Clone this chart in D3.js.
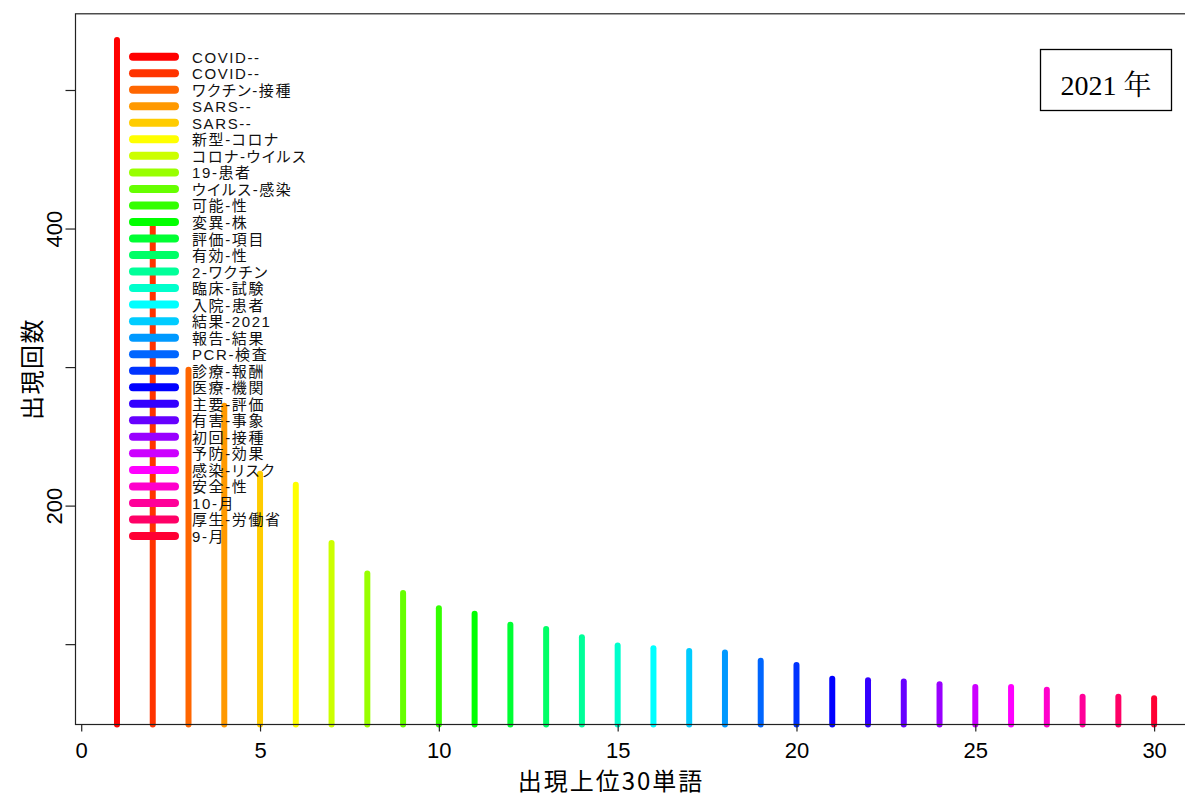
<!DOCTYPE html>
<html><head><meta charset="utf-8">
<script src="https://cdn.jsdelivr.net/npm/d3@7"></script>
<style>
html,body{margin:0;padding:0;background:#fff;}
svg{display:block;}
</style></head>
<body>
<svg id="chart" width="1185" height="796"></svg>
<script>
// ---- data ----
const ranks = d3.range(1, 31);
const counts = [536, 403, 298, 272, 223, 215, 173, 151, 137, 126,
                122, 114, 111, 105, 99, 97, 95, 94, 88, 85,
                75, 74, 73, 71, 69, 69, 67, 62, 62, 61];
const legendLabels = ["COVID--", "COVID--", "ワクチン-接種", "SARS--", "SARS--",
  "新型-コロナ", "コロナ-ウイルス", "19-患者", "ウイルス-感染", "可能-性",
  "変異-株", "評価-項目", "有効-性", "2-ワクチン", "臨床-試験",
  "入院-患者", "結果-2021", "報告-結果", "PCR-検査", "診療-報酬",
  "医療-機関", "主要-評価", "有害-事象", "初回-接種", "予防-効果",
  "感染-リスク", "安全-性", "10-月", "厚生-労働省", "9-月"];
const xTicks = [0, 5, 10, 15, 20, 25, 30];
const yTicks = [100, 200, 300, 400, 500];
const yTickLabels = ["", "200", "", "400", ""];
const xTitle = "出現上位30単語";
const yTitle = "出現回数";
const yearLabel = "2021 年";

// rainbow(30) like R
const colors = ranks.map((r, i) => d3.hsl(i / 30 * 360, 1, 0.5).formatHex());

const svg = d3.select("#chart");
const x = d3.scaleLinear().domain([-0.16, 31.16]).range([75.5, 1195.6]);
const y = d3.scaleLinear().domain([42, 555]).range([724.5, 13.8]);

const tickFont = "'Liberation Sans Narrow','Liberation Sans',Arial,sans-serif";
const jpFont = "'Liberation Sans','Noto Sans CJK JP',sans-serif";

// bars (type = "h")
svg.append("g").selectAll("line").data(counts).join("line")
  .attr("x1", (d, i) => x(ranks[i])).attr("x2", (d, i) => x(ranks[i]))
  .attr("y1", y(42)).attr("y2", d => y(d))
  .attr("stroke", (d, i) => colors[i])
  .attr("stroke-width", 6)
  .attr("stroke-linecap", "round");

// frame
svg.append("rect")
  .attr("x", x(-0.16)).attr("y", y(555))
  .attr("width", x(31.16) - x(-0.16)).attr("height", y(42) - y(555))
  .attr("fill", "none").attr("stroke", "#222").attr("stroke-width", 1.2);

// x axis
const gx = svg.append("g").attr("transform", `translate(0,${y(42)})`)
  .call(d3.axisBottom(x).tickValues(xTicks).tickSize(7).tickSizeOuter(0).tickFormat(d3.format("d")));
gx.select(".domain").remove();
gx.selectAll(".tick line").attr("stroke", "#222").attr("stroke-width", 1.2);
gx.selectAll(".tick text").attr("y", 33).attr("dy", 0)
  .attr("font-family", tickFont).attr("font-size", 22).attr("fill", "#000");

// y axis
const gy = svg.append("g").attr("transform", `translate(${x(-0.16)},0)`)
  .call(d3.axisLeft(y).tickValues(yTicks).tickSize(10).tickSizeOuter(0)
    .tickFormat((d, i) => yTickLabels[i]));
gy.select(".domain").remove();
gy.selectAll(".tick line").attr("stroke", "#222").attr("stroke-width", 1.2);
gy.selectAll(".tick text")
  .attr("x", 0).attr("y", 0).attr("dy", 0)
  .attr("text-anchor", "middle")
  .attr("transform", "translate(-14,0) rotate(-90)")
  .attr("font-family", tickFont).attr("font-size", 22).attr("fill", "#000");

// axis titles
svg.append("text").text(xTitle)
  .attr("x", 611).attr("y", 779)
  .attr("text-anchor", "middle").attr("dominant-baseline", "central")
  .attr("font-family", "'Noto Sans CJK JP',sans-serif").attr("font-size", 24)
  .attr("letter-spacing", 2);
svg.append("text").text(yTitle)
  .attr("transform", "translate(30,369) rotate(-90)")
  .attr("text-anchor", "middle").attr("dominant-baseline", "central")
  .attr("font-family", "'Noto Sans CJK JP',sans-serif").attr("font-size", 24)
  .attr("letter-spacing", 1.5);

// legend
const legY = d3.scaleLinear().domain([0, 29]).range([56.7, 536]);
const leg = svg.append("g");
leg.selectAll("line").data(legendLabels).join("line")
  .attr("x1", 133).attr("x2", 175)
  .attr("y1", (d, i) => legY(i)).attr("y2", (d, i) => legY(i))
  .attr("stroke", (d, i) => colors[i]).attr("stroke-width", 8)
  .attr("stroke-linecap", "round");
leg.selectAll("text").data(legendLabels).join("text")
  .text(d => d)
  .attr("x", 192).attr("y", (d, i) => legY(i) + 0.5)
  .attr("dominant-baseline", "central")
  .attr("font-family", jpFont).attr("font-size", 15)
  .attr("letter-spacing", 1.6)
  .style("font-feature-settings", "'palt'")
  .attr("fill", "#111");

// year box
svg.append("rect").attr("x", 1040.5).attr("y", 49.5).attr("width", 131).attr("height", 61)
  .attr("fill", "#fff").attr("stroke", "#000").attr("stroke-width", 1.3);
svg.append("text").text(yearLabel)
  .attr("x", 1106).attr("y", 95)
  .attr("text-anchor", "middle")
  .attr("font-family", "'Liberation Serif','Noto Serif CJK JP','Noto Sans CJK JP',serif")
  .attr("font-size", 28).attr("fill", "#000");
</script>
</body></html>
